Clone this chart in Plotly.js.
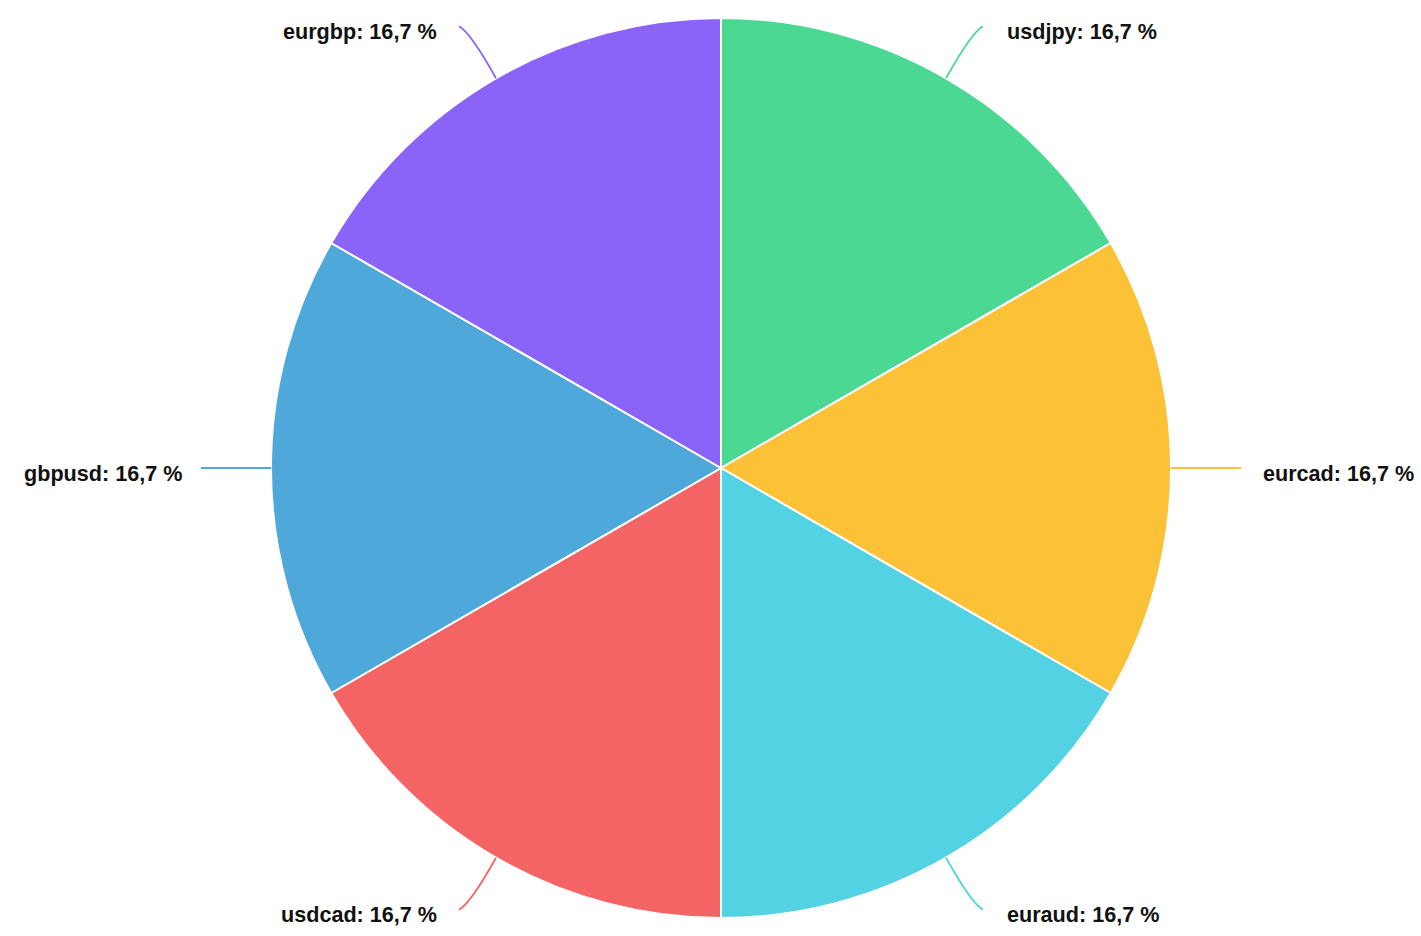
<!DOCTYPE html>
<html>
<head>
<meta charset="utf-8">
<script src="https://cdn.plot.ly/plotly-3.0.1.min.js"></script>
<style>html,body{margin:0;padding:0;background:#fff;}#chart{width:1421px;height:936px;}</style>
</head>
<body>
<div id="chart"></div>
<script>
const labels = ["usdjpy", "eurcad", "euraud", "usdcad", "gbpusd", "eurgbp"];
const values = [1, 1, 1, 1, 1, 1];
const colors = ["#4AD892", "#FBC237", "#52D2E2", "#F46464", "#4EA8D9", "#8A63F7"];

const W = 1421, H = 936;
const cx = 721, cy = 468, R = 450;
const total = values.reduce((a, b) => a + b, 0);

const px = x => x / W;
const py = y => 1 - y / H;

const annotations = [];
const shapes = [];
let acc = 0;
values.forEach((v, i) => {
  const mid = (acc + v / 2) / total * 2 * Math.PI;
  acc += v;
  const s = Math.sin(mid), c = Math.cos(mid);
  const ex = cx + R * s, ey = cy - R * c;
  let endX, endY, ctrlX, ctrlY, gap;
  if (Math.abs(s) > 0.95) {
    endX = cx + (R + 70) * Math.sign(s);
    endY = ey;
    ctrlX = (ex + endX) / 2; ctrlY = ey;
    gap = s > 0 ? 20 : -17;
  } else {
    endX = cx + 524 * s;
    endY = cy - 510 * c;
    const t = (endY - ey) / (-c);
    ctrlX = ex + s * t * 0.85;
    ctrlY = endY + (ey - endY) * 0.12;
    gap = s > 0 ? 22 : -20;
  }
  shapes.push({
    type: "path", xref: "paper", yref: "paper",
    path: `M ${px(ex)} ${py(ey)} Q ${px(ctrlX)} ${py(ctrlY)} ${px(endX)} ${py(endY)}`,
    line: {color: colors[i], width: 1.8}
  });
  const pct = (v / total * 100).toFixed(1).replace(".", ",") + " %";
  const right = s > 0;
  annotations.push({
    xref: "paper", yref: "paper",
    x: px(endX + gap), y: py(endY + 5),
    xanchor: right ? "left" : "right", yanchor: "middle",
    text: "<b>" + labels[i] + ": " + pct + "</b>",
    showarrow: false,
    font: {family: "Liberation Sans, Arial, sans-serif", size: 21.6, color: "#111"}
  });
});

const data = [{
  type: "pie",
  labels: labels,
  values: values,
  sort: false,
  direction: "clockwise",
  rotation: 0,
  textinfo: "none",
  hoverinfo: "label+percent",
  marker: {colors: colors, line: {color: "#ffffff", width: 2}},
  domain: {x: [21 / W, 1], y: [18 / H, 918 / H]}
}];

const layout = {
  width: W, height: H,
  margin: {l: 0, r: 0, t: 0, b: 0},
  paper_bgcolor: "#fff",
  showlegend: false,
  annotations: annotations,
  shapes: shapes
};

Plotly.newPlot("chart", data, layout, {displayModeBar: false, staticPlot: true});
</script>
</body>
</html>
